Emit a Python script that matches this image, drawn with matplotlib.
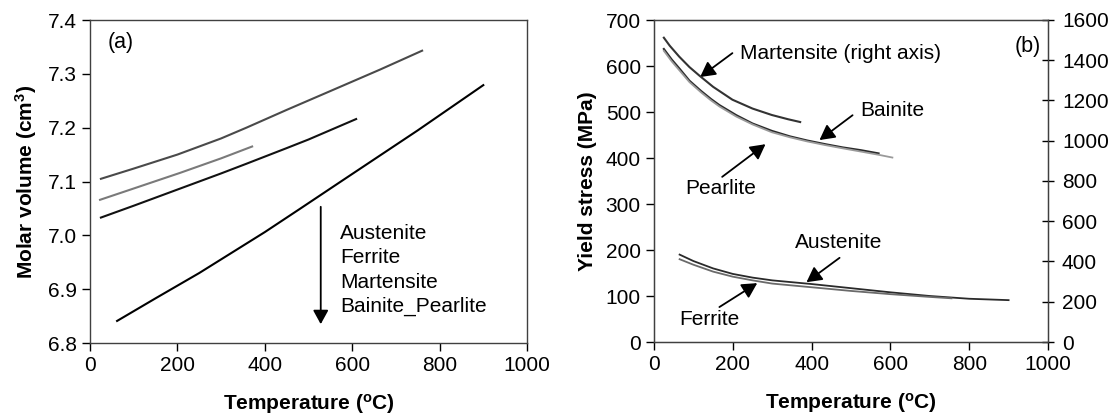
import matplotlib
matplotlib.use("Agg")
import matplotlib.pyplot as plt

plt.rcParams['font.family'] = ['Liberation Sans', 'DejaVu Sans']
plt.rcParams['font.size'] = 15

# ---------------- Panel (a): molar volume ----------------
T_aus_a = [25, 100, 200, 300, 358, 450, 550, 664, 760]
V_aus_a = [7.105, 7.124, 7.150, 7.180, 7.200, 7.233, 7.268, 7.308, 7.343]
T_fer_a = [23, 100, 206, 300, 371]
V_fer_a = [7.066, 7.087, 7.116, 7.143, 7.165]
T_mar_a = [25, 100, 200, 300, 358, 450, 500, 609]
V_mar_a = [7.033, 7.055, 7.085, 7.115, 7.133, 7.162, 7.178, 7.216]
T_bp_a = [62, 150, 250, 400, 480, 576, 750, 900]
V_bp_a = [6.841, 6.883, 6.930, 7.006, 7.049, 7.101, 7.195, 7.279]
labels_a = ["Austenite", "Ferrite", "Martensite", "Bainite_Pearlite"]

# ---------------- Panel (b): yield stress ----------------
T_mar_b = [25, 40, 64, 90, 115, 150, 199, 250, 299, 340, 371]
Y_mar_b = [1512, 1472, 1418, 1366, 1324, 1268, 1204, 1160, 1128, 1107, 1093]  # right axis
T_bai_b = [25, 45, 64, 90, 119, 145, 166, 209, 250, 299, 345, 389, 435, 479, 525, 570]
Y_bai_b = [637, 614, 595, 568, 546, 528, 515, 493, 475, 459, 447, 438, 430, 423, 417, 410]
T_pea_b = [25, 45, 64, 90, 119, 145, 166, 209, 250, 299, 345, 389, 435, 479, 525, 570, 605]
Y_pea_b = [633, 610, 591, 565, 543, 525, 512, 490, 473, 456, 445, 436, 428, 421, 414, 407, 401]
T_aus_b = [65, 100, 150, 200, 250, 300, 400, 500, 600, 700, 800, 900]
Y_aus_b = [190, 176, 160, 148, 140, 134, 126, 117, 108, 100, 94, 91]
T_fer_b = [65, 100, 150, 200, 250, 300, 400, 500, 600, 700, 755]
Y_fer_b = [180, 168, 153, 142, 134, 127, 119, 111, 104, 98, 95]

W, H = 1116, 419
fig = plt.figure(figsize=(W / 100, H / 100), dpi=100)

def box(l, r, t, b):
    return [l / W, (H - b) / H, (r - l) / W, (b - t) / H]

spine_c = '#404040'

# ---- Panel (a)
axa = fig.add_axes(box(90, 527, 20, 343))
axa.plot(T_aus_a, V_aus_a, color='#4a4a4a', lw=1.5)
axa.plot(T_fer_a, V_fer_a, color='#7a7a7a', lw=1.5)
axa.plot(T_mar_a, V_mar_a, color='#111111', lw=1.5)
axa.plot(T_bp_a, V_bp_a, color='#000000', lw=1.5)
axa.set_xlim(0, 1000)
axa.set_ylim(6.8, 7.4)
axa.set_xticks(range(0, 1001, 200))
axa.set_yticks([6.8, 6.9, 7.0, 7.1, 7.2, 7.3, 7.4])
axa.set_yticklabels(['6.8', '6.9', '7.0', '7.1', '7.2', '7.3', '7.4'])
axa.set_xlabel('Temperature ($\\mathregular{^{o}}$C)', fontweight='bold', fontsize=15, labelpad=12)
axa.set_ylabel('Molar volume (cm$\\mathregular{^{3}}$)', fontweight='bold', fontsize=15, labelpad=6)
axa.text(40, 7.358, '(a)', fontsize=15.5, va='center', ha='left')
axa.annotate('', xy=(528, 6.835), xytext=(528, 7.053),
             arrowprops=dict(arrowstyle='-|>,head_width=0.33,head_length=0.6',
                             color='black', lw=1.3, mutation_scale=14,
                             shrinkA=0, shrinkB=0))
for i, lab in enumerate(labels_a):
    axa.text(573, 7.0025 - i * 0.0446, lab, fontsize=15, va='center', ha='left')

# ---- Panel (b)
axb = fig.add_axes(box(654, 1048, 20, 342))
axb.plot(T_bai_b, Y_bai_b, color='#2a2a2a', lw=1.5)
axb.plot(T_pea_b, Y_pea_b, color='#9a9a9a', lw=1.3)
axb.plot(T_aus_b, Y_aus_b, color='#2a2a2a', lw=1.3)
axb.plot(T_fer_b, Y_fer_b, color='#6a6a6a', lw=1.3)
axb.set_xlim(0, 1000)
axb.set_ylim(0, 700)
axb.set_xticks(range(0, 1001, 200))
axb.set_yticks(range(0, 701, 100))
axb.set_xlabel('Temperature ($\\mathregular{^{o}}$C)', fontweight='bold', fontsize=15, labelpad=12)
axb.set_ylabel('Yield stress (MPa)', fontweight='bold', fontsize=15, labelpad=6)

axr = axb.twinx()
axr.plot(T_mar_b, Y_mar_b, color='#333333', lw=1.5)
axr.set_ylim(0, 1600)
axr.set_yticks(range(0, 1601, 200))
axr.tick_params(axis='y', direction='inout', length=8, width=1, colors='black', pad=6)
for s in axr.spines.values():
    s.set_color(spine_c)

axb.text(915, 642, '(b)', fontsize=15.5, va='center', ha='left')

arrow_kw = dict(arrowstyle='-|>,head_width=0.35,head_length=0.65', color='black',
                lw=1.3, mutation_scale=14, shrinkA=0, shrinkB=0)
axb.annotate('', xy=(117, 576), xytext=(199, 628), arrowprops=arrow_kw)
axb.text(218, 628, 'Martensite (right axis)', fontsize=15, va='center', ha='left')
axb.annotate('', xy=(420, 439), xytext=(504, 493), arrowprops=arrow_kw)
axb.text(523, 504, 'Bainite', fontsize=15, va='center', ha='left')
axb.annotate('', xy=(283, 430), xytext=(173, 359), arrowprops=arrow_kw)
axb.text(80, 333, 'Pearlite', fontsize=15, va='center', ha='left')
axb.annotate('', xy=(387, 130), xytext=(471, 183), arrowprops=arrow_kw)
axb.text(358, 217, 'Austenite', fontsize=15, va='center', ha='left')
axb.annotate('', xy=(262, 128), xytext=(166, 76), arrowprops=arrow_kw)
axb.text(64, 50, 'Ferrite', fontsize=15, va='center', ha='left')

for ax in (axa, axb):
    for s in ax.spines.values():
        s.set_color(spine_c)
        s.set_linewidth(1.0)
    ax.tick_params(direction='out', length=6, width=1, colors='black')
    ax.tick_params(axis='both', labelsize=15)
axr.tick_params(labelsize=15)

fig.savefig('out.png', dpi=100)
